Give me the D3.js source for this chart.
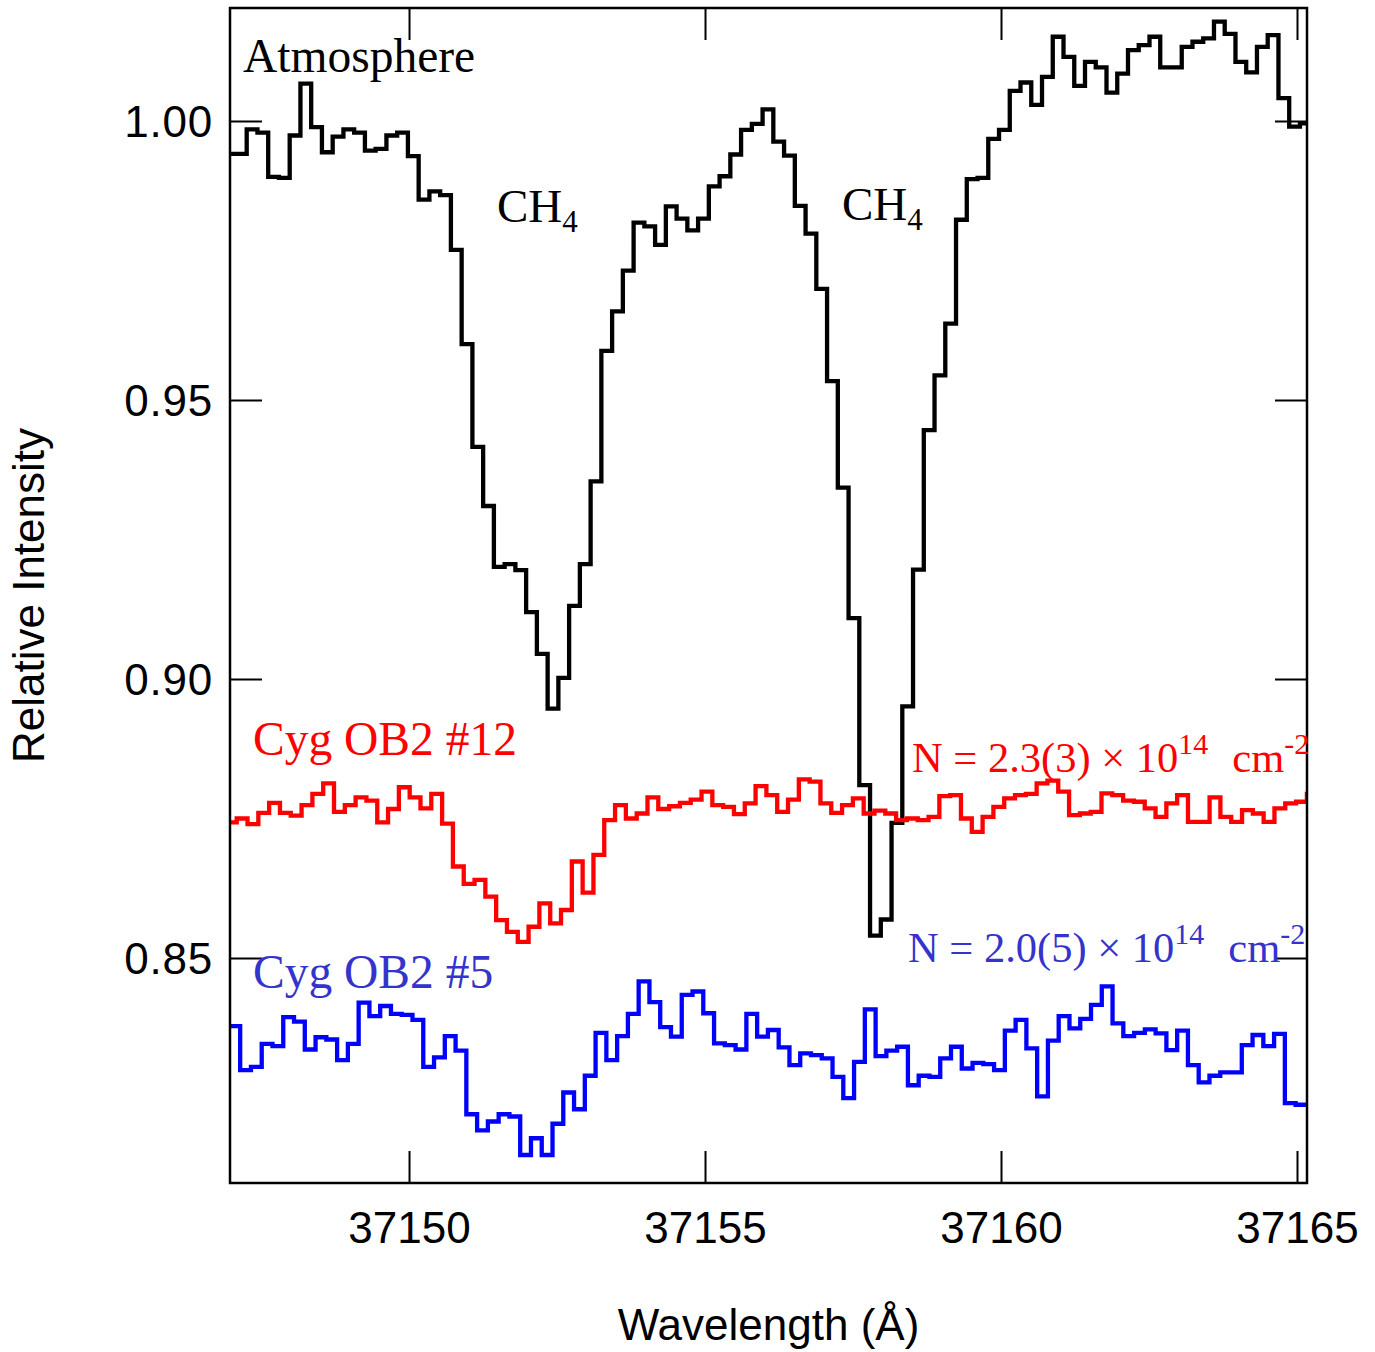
<!DOCTYPE html>
<html>
<head>
<meta charset="utf-8">
<script src="https://cdn.jsdelivr.net/npm/d3@7"></script>
<style>
  body { margin: 0; background: #fff; }
  svg { display: block; }
</style>
</head>
<body>
<div id="chart"></div>
<script>
const W = 1375, H = 1352;
const m = {l: 230, r: 1307, t: 8, b: 1183};

const xTicks = [37150, 37155, 37160, 37165];
const yTicks = [0.85, 0.90, 0.95, 1.00];

// telluric standard, left edge of first bin + bin width (Å)
const atmStart = 37146.895, atmStep = 0.18155;
const atmValues = [
  0.9941, 0.9941, 0.9985, 0.9979, 0.9900, 0.9898, 0.9974, 1.0067, 0.9989, 0.9944,
  0.9972, 0.9985, 0.9979, 0.9947, 0.9950, 0.9974, 0.9979, 0.9937, 0.9859, 0.9874,
  0.9867, 0.9769, 0.9600, 0.9416, 0.9310, 0.9201, 0.9206, 0.9195, 0.9120, 0.9045,
  0.8947, 0.9002, 0.9131, 0.9206, 0.9354, 0.9588, 0.9659, 0.9732, 0.9818, 0.9811,
  0.9778, 0.9847, 0.9825, 0.9804, 0.9825, 0.9883, 0.9901, 0.9940, 0.9984, 0.9995,
  1.0021, 0.9963, 0.9938, 0.9848, 0.9798, 0.9699, 0.9534, 0.9343, 0.9109, 0.8810,
  0.8540, 0.8569, 0.8742, 0.8951, 0.9196, 0.9446, 0.9544, 0.9637, 0.9823, 0.9896,
  0.9898, 0.9968, 0.9984, 1.0054, 1.0069, 1.0029, 1.0079, 1.0151, 1.0115, 1.0063,
  1.0106, 1.0096, 1.0051, 1.0085, 1.0127, 1.0136, 1.0151, 1.0096, 1.0096, 1.0133,
  1.0142, 1.0148, 1.0178, 1.0156, 1.0106, 1.0087, 1.0133, 1.0154, 1.0041, 0.9990,
  0.9996
];

// Cyg OB2 #12
const cyg12Start = 37146.907, cyg12Step = 0.1826;
const cyg12Values = [
  0.8743, 0.8750, 0.8740, 0.8760, 0.8778, 0.8760, 0.8755, 0.8774, 0.8794, 0.8813,
  0.8762, 0.8774, 0.8788, 0.8782, 0.8743, 0.8767, 0.8806, 0.8788, 0.8768, 0.8794,
  0.8741, 0.8664, 0.8633, 0.8640, 0.8610, 0.8568, 0.8547, 0.8529, 0.8556, 0.8598,
  0.8562, 0.8586, 0.8673, 0.8617, 0.8685, 0.8747, 0.8774, 0.8750, 0.8759, 0.8788,
  0.8767, 0.8772, 0.8778, 0.8784, 0.8798, 0.8774, 0.8771, 0.8758, 0.8777, 0.8808,
  0.8792, 0.8762, 0.8784, 0.8820, 0.8816, 0.8777, 0.8760, 0.8774, 0.8786, 0.8759,
  0.8764, 0.8759, 0.8747, 0.8750, 0.8747, 0.8753, 0.8790, 0.8792, 0.8750, 0.8726,
  0.8753, 0.8771, 0.8786, 0.8792, 0.8794, 0.8813, 0.8818, 0.8798, 0.8756, 0.8759,
  0.8762, 0.8795, 0.8792, 0.8782, 0.8780, 0.8768, 0.8753, 0.8777, 0.8792, 0.8744,
  0.8744, 0.8788, 0.8753, 0.8744, 0.8765, 0.8759, 0.8744, 0.8768, 0.8777, 0.8780,
  0.8794
];

// Cyg OB2 #5
const cyg5Start = 37146.966, cyg5Step = 0.18193;
const cyg5Values = [
  0.8378, 0.8299, 0.8305, 0.8346, 0.8342, 0.8394, 0.8386, 0.8336, 0.8358, 0.8354,
  0.8317, 0.8346, 0.8420, 0.8396, 0.8414, 0.8400, 0.8398, 0.8389, 0.8305, 0.8322,
  0.8360, 0.8334, 0.8220, 0.8191, 0.8207, 0.8220, 0.8216, 0.8147, 0.8177, 0.8147,
  0.8203, 0.8259, 0.8229, 0.8289, 0.8366, 0.8317, 0.8360, 0.8400, 0.8458, 0.8421,
  0.8376, 0.8359, 0.8434, 0.8440, 0.8401, 0.8347, 0.8344, 0.8336, 0.8400, 0.8359,
  0.8371, 0.8340, 0.8308, 0.8329, 0.8326, 0.8320, 0.8287, 0.8249, 0.8314, 0.8408,
  0.8324, 0.8334, 0.8341, 0.8272, 0.8289, 0.8287, 0.8320, 0.8341, 0.8302, 0.8312,
  0.8310, 0.8299, 0.8370, 0.8389, 0.8338, 0.8252, 0.8352, 0.8396, 0.8374, 0.8391,
  0.8416, 0.8449, 0.8383, 0.8360, 0.8366, 0.8372, 0.8365, 0.8335, 0.8370, 0.8308,
  0.8277, 0.8289, 0.8295, 0.8295, 0.8344, 0.8362, 0.8342, 0.8364, 0.8240, 0.8237
];

const sans = "'Liberation Sans', Arial, Helvetica, sans-serif";
const serif = "'Liberation Serif', 'Times New Roman', Times, serif";
const blueText = "#3434cc";

const x = d3.scaleLinear().domain([37146.976, 37165.169]).range([m.l, m.r]);
const y = d3.scaleLinear().domain([0.80968, 1.02025]).range([m.b, m.t]);

const svg = d3.select("#chart").append("svg")
  .attr("width", W).attr("height", H)
  .attr("viewBox", `0 0 ${W} ${H}`);

svg.append("defs").append("clipPath").attr("id", "plot-clip")
  .append("rect")
  .attr("x", m.l).attr("y", m.t)
  .attr("width", m.r - m.l).attr("height", m.b - m.t);

// bins -> step points (one extra point closes the last bin)
function binPoints(start, step, vals) {
  const pts = vals.map((v, i) => [start + i * step, v]);
  pts.push([start + vals.length * step, vals[vals.length - 1]]);
  return pts;
}

const line = d3.line()
  .x(d => x(d[0]))
  .y(d => y(d[1]))
  .curve(d3.curveStepAfter);

const series = [
  {pts: binPoints(atmStart, atmStep, atmValues), color: "#000000"},
  {pts: binPoints(cyg12Start, cyg12Step, cyg12Values), color: "#ff0000"},
  {pts: binPoints(cyg5Start, cyg5Step, cyg5Values), color: "#0000ff"}
];

const plot = svg.append("g").attr("clip-path", "url(#plot-clip)");
plot.selectAll("path")
  .data(series)
  .join("path")
    .attr("d", d => line(d.pts))
    .attr("fill", "none")
    .attr("stroke", d => d.color)
    .attr("stroke-width", 4.3)
    .attr("stroke-linejoin", "miter")
    .attr("stroke-linecap", "square");

// axes, ticks pointing inward on all four sides
const tickLen = 32;
function styleAxis(g) {
  g.select(".domain").remove();
  g.selectAll(".tick line").attr("stroke", "#000").attr("stroke-width", 2);
  g.selectAll(".tick text")
    .attr("fill", "#000")
    .attr("font-family", sans)
    .attr("font-size", 44);
}

svg.append("g")
  .attr("transform", `translate(0,${m.b})`)
  .call(d3.axisBottom(x).tickValues(xTicks).tickFormat(d3.format("d"))
    .tickSizeInner(-tickLen).tickSizeOuter(0).tickPadding(29))
  .call(styleAxis);

svg.append("g")
  .attr("transform", `translate(0,${m.t})`)
  .call(d3.axisTop(x).tickValues(xTicks).tickFormat("")
    .tickSizeInner(-tickLen).tickSizeOuter(0))
  .call(styleAxis);

svg.append("g")
  .attr("transform", `translate(${m.l},0)`)
  .call(d3.axisLeft(y).tickValues(yTicks).tickFormat(d3.format(".2f"))
    .tickSizeInner(-tickLen).tickSizeOuter(0).tickPadding(17))
  .call(styleAxis)
  .call(g => g.selectAll(".tick text").attr("dy", "0.36em").attr("letter-spacing", 0.8));

svg.append("g")
  .attr("transform", `translate(${m.r},0)`)
  .call(d3.axisRight(y).tickValues(yTicks).tickFormat("")
    .tickSizeInner(-tickLen).tickSizeOuter(0))
  .call(styleAxis);

svg.append("rect")
  .attr("x", m.l).attr("y", m.t)
  .attr("width", m.r - m.l).attr("height", m.b - m.t)
  .attr("fill", "none")
  .attr("stroke", "#000")
  .attr("stroke-width", 2.5);

// axis titles
svg.append("text")
  .attr("x", (m.l + m.r) / 2).attr("y", 1340)
  .attr("text-anchor", "middle")
  .attr("font-family", sans).attr("font-size", 44)
  .text("Wavelength (Å)");

svg.append("text")
  .attr("transform", `translate(44,${(m.t + m.b) / 2}) rotate(-90)`)
  .attr("text-anchor", "middle")
  .attr("font-family", sans).attr("font-size", 44)
  .text("Relative Intensity");

// labels
const labels = svg.append("g").attr("font-family", serif);

labels.append("text")
  .attr("x", 243).attr("y", 72)
  .attr("font-size", 47.5).attr("fill", "#000")
  .text("Atmosphere");

[[497, 222], [842, 220]].forEach(([lx, ly]) => {
  const t = labels.append("text")
    .attr("x", lx).attr("y", ly)
    .attr("font-size", 47).attr("fill", "#000");
  t.append("tspan").text("CH");
  t.append("tspan").attr("font-size", 31).attr("dy", 10).text("4");
});

labels.append("text")
  .attr("x", 253).attr("y", 755)
  .attr("font-size", 47.5).attr("fill", "#ff0000")
  .text("Cyg OB2 #12");

labels.append("text")
  .attr("x", 253).attr("y", 988)
  .attr("font-size", 47.5).attr("fill", blueText)
  .text("Cyg OB2 #5");

function columnLabel(lx, ly, main, color) {
  const t = labels.append("text")
    .attr("x", lx).attr("y", ly)
    .attr("font-size", 42.5).attr("fill", color);
  t.append("tspan").text(main);
  t.append("tspan").attr("font-size", 30).attr("dy", -18).text("14");
  t.append("tspan").attr("dy", 18).attr("dx", 24).text("cm");
  t.append("tspan").attr("font-size", 30).attr("dy", -18).text("-2");
}
columnLabel(912, 772, "N = 2.3(3) × 10", "#ff0000");
columnLabel(908, 962, "N = 2.0(5) × 10", blueText);
</script>
</body>
</html>
